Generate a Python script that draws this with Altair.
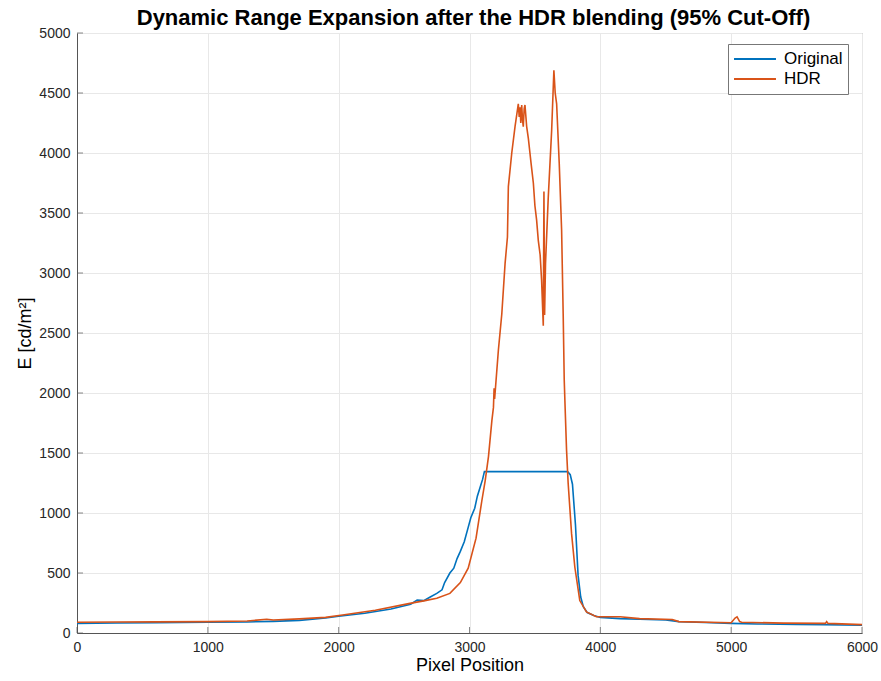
import altair as alt
import pandas as pd

# Luminance profile along the scan line, before blending (clipped sensor data)
orig_x = [0, 300, 600, 1000, 1300, 1500, 1700, 1900, 2000, 2200, 2400, 2550,
          2600, 2650, 2700, 2750, 2790, 2810, 2850, 2880, 2905, 2930, 2960,
          2990, 3010, 3040, 3060, 3080, 3100, 3114, 3750, 3770, 3787, 3810,
          3830, 3850, 3870, 3900, 3950, 4000, 4150, 4300, 4500, 4600, 4800,
          5000, 5200, 5500, 5700, 6000]
orig_e = [80, 83, 85, 90, 92, 97, 105, 125, 140, 165, 200, 240,
          275, 270, 300, 330, 360, 420, 500, 540, 620, 680, 760,
          880, 960, 1040, 1140, 1210, 1280, 1345, 1345, 1320, 1240, 900,
          480, 300, 220, 170, 145, 130, 120, 115, 108, 95, 88,
          80, 75, 72, 70, 65]

# Same scan line after HDR blending
hdr_x = [0, 300, 600, 1000, 1300, 1450, 1500, 1700, 1900, 2030, 2280, 2535,
         2660, 2750, 2850, 2930, 2990, 3050, 3094, 3120, 3145, 3171, 3183,
         3188, 3192, 3221, 3247, 3272, 3290, 3297, 3323, 3348, 3373, 3380,
         3386, 3392, 3399, 3405, 3411, 3418, 3424, 3437, 3450, 3462, 3470,
         3488, 3500, 3513, 3526, 3540, 3551, 3564, 3569, 3574, 3581, 3602,
         3628, 3645, 3655, 3666, 3686, 3704, 3716, 3724, 3729, 3742, 3754,
         3780, 3805, 3843, 3894, 3970, 4150, 4300, 4550, 4600, 5000, 5030,
         5045, 5065, 5080, 5400, 5720, 5730, 5740, 6000]
hdr_e = [90, 92, 93, 95, 100, 115, 108, 118, 130, 150, 190, 245,
         270, 290, 330, 420, 540, 790, 1100, 1270, 1470, 1770, 1880,
         2040, 1950, 2360, 2660, 3080, 3300, 3720, 4000, 4220, 4410, 4300,
         4380, 4250, 4400, 4280, 4220, 4370, 4400, 4220, 4120, 4000, 3920,
         3750, 3560, 3440, 3270, 3150, 2940, 2560, 3680, 2650, 3080, 3630,
         4190, 4690, 4500, 4410, 3910, 3360, 2660, 2110, 1940, 1520, 1250,
         830, 550, 270, 175, 135, 135, 120, 112, 95, 85, 125,
         135, 95, 90, 82, 80, 95, 80, 70]

series_names = ["Original", "HDR"]
series_colors = ["#0072BD", "#D95319"]

x_ticks = [0, 1000, 2000, 3000, 4000, 5000, 6000]
y_ticks = list(range(0, 5001, 500))

orig_df = pd.DataFrame({"pos": orig_x, "E": orig_e, "series": "Original"})
hdr_df = pd.DataFrame({"pos": hdr_x, "E": hdr_e, "series": "HDR"})
xtick_df = pd.DataFrame({"pos": x_ticks})
ytick_df = pd.DataFrame({"E": y_ticks})

FONT = "Liberation Sans"
AXIS_GREY = "#555555"

color = alt.Color(
    "series:N",
    scale=alt.Scale(domain=series_names, range=series_colors),
    legend=alt.Legend(
        title=None,
        orient="none",
        legendX=651,
        legendY=11,
        symbolType="stroke",
        symbolSize=1760,
        symbolStrokeWidth=2,
        clipHeight=20,
        labelFontSize=17,
        labelFont=FONT,
        labelColor="#000000",
        strokeColor="#777777",
        fillColor="#ffffff",
        padding=5,
        rowPadding=0,
        labelOffset=7,
    ),
)

x_scale = alt.Scale(domain=[0, 6000], nice=False)
y_scale = alt.Scale(domain=[0, 5000], nice=False)

x_enc = alt.X(
    "pos:Q",
    scale=x_scale,
    axis=alt.Axis(values=x_ticks, title="Pixel Position", format="d"),
)
y_enc = alt.Y(
    "E:Q",
    scale=y_scale,
    axis=alt.Axis(values=y_ticks, title="E [cd/m²]", format="d"),
)

orig_line = alt.Chart(orig_df).mark_line(strokeWidth=1.6).encode(
    x=x_enc, y=y_enc, color=color, order="pos:Q"
)
hdr_line = alt.Chart(hdr_df).mark_line(strokeWidth=1.6).encode(
    x=x_enc, y=y_enc, color=color, order="pos:Q"
)

# Inward-pointing tick marks along the bottom and left axes
x_tick_marks = alt.Chart(xtick_df).mark_tick(
    orient="vertical", size=6, thickness=1, color=AXIS_GREY, yOffset=-3
).encode(x=alt.X("pos:Q", scale=x_scale), y=alt.datum(0, scale=y_scale))
y_tick_marks = alt.Chart(ytick_df).mark_tick(
    orient="horizontal", size=6, thickness=1, color=AXIS_GREY, xOffset=3
).encode(y=alt.Y("E:Q", scale=y_scale), x=alt.datum(0, scale=x_scale))

chart = (
    alt.layer(orig_line, hdr_line, x_tick_marks, y_tick_marks)
    .properties(
        width=785,
        height=600,
        autosize=alt.AutoSizeParams(type="none"),
        padding={"left": 77, "top": 33, "right": 19, "bottom": 48},
        background="#ffffff",
        title=alt.Title(
            "Dynamic Range Expansion after the HDR blending (95% Cut-Off)",
            fontSize=22,
            font=FONT,
            fontWeight="bold",
            color="#000000",
            offset=8,
            dx=4,
            dy=12,
        ),
    )
    .configure_view(stroke="#8c8c8c", strokeWidth=1)
    .configure_axis(
        labelFont=FONT,
        titleFont=FONT,
        labelFontSize=14,
        titleFontSize=18,
        titleFontWeight="normal",
        labelColor="#262626",
        titleColor="#000000",
        domainColor=AXIS_GREY,
        gridColor="#e8e8e8",
        tickSize=0,
        labelPadding=7,
        labelFlush=False,
    )
    .configure_axisX(titlePadding=2)
    .configure_axisY(titlePadding=4)
)

chart.save("out.html", embed_options={"renderer": "svg", "actions": False})
